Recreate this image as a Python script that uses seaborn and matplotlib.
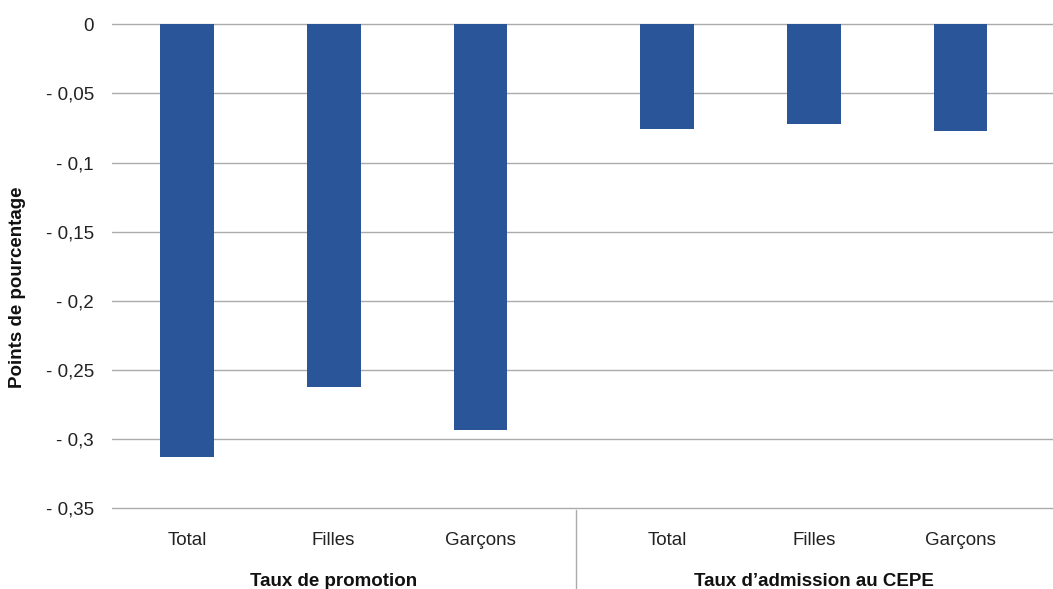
import numpy as np
import pandas as pd
import matplotlib
matplotlib.use("Agg")
import matplotlib.pyplot as plt
from matplotlib.ticker import FuncFormatter
import seaborn as sns

# Écart en points de pourcentage, par indicateur et par sexe
groupes = ["Taux de promotion", "Taux d\u2019admission au CEPE"]
categories = ["Total", "Filles", "Garçons", "Total", "Filles", "Garçons"]
groupe_de = [0, 0, 0, 1, 1, 1]
valeurs = [-0.313, -0.262, -0.293, -0.076, -0.072, -0.077]
yticks = [0, -0.05, -0.1, -0.15, -0.2, -0.25, -0.3, -0.35]

sns.set_theme(style="white")
plt.rcParams["font.family"] = ["Liberation Sans", "DejaVu Sans"]

BAR = "#2A5699"
GRID = "#ABABAB"
FS = 13.5

# horizontal slots: three bars per group, with a wider gap between groups
pos = [0.0, 1.0, 2.0, 3.27, 4.27, 5.27]
df = pd.DataFrame({"pos": pos, "valeur": valeurs, "categorie": categories})

fig = plt.figure(figsize=(10.53, 5.89), dpi=100)
ax = fig.add_axes([112 / 1053, 1 - 510 / 589, 1 - 112 / 1053, (510 - 23) / 589])

sns.barplot(data=df, x="pos", y="valeur", native_scale=True, color=BAR,
            saturation=1, width=0.367, linewidth=0, ax=ax, zorder=3)

ax.set_xlim(-0.51, 5.9)
ax.set_ylim(-0.3512, 0.0009)
ax.set_yticks(yticks)
ax.yaxis.set_major_formatter(FuncFormatter(
    lambda v, _: "0" if abs(v) < 1e-9 else ("- " + f"{abs(v):g}".replace(".", ","))))
ax.grid(axis="y", color=GRID, linewidth=1.0, zorder=0)
ax.grid(axis="x", visible=False)
for s in ax.spines.values():
    s.set_visible(False)

ax.set_xticks(pos)
ax.set_xticklabels(categories, fontsize=FS, color="#222222")
ax.tick_params(axis="x", length=0, pad=16)
ax.tick_params(axis="y", length=0, pad=13, labelsize=FS, labelcolor="#222222")
ax.set_xlabel("")
ax.set_ylabel("")

# group names under the category labels
centres = [np.mean([p for p, g in zip(pos, groupe_de) if g == k]) for k in range(len(groupes))]
trans = ax.get_xaxis_transform()
for c, nom in zip(centres, groupes):
    ax.text(c, -0.146, nom, transform=trans, ha="center", va="center",
            fontsize=FS, fontweight="bold", color="#111111", clip_on=False)

# separator between the two groups
ax.plot([2.653, 2.653], [0, -0.17], transform=trans, color=GRID,
        linewidth=1.0, clip_on=False)

fig.text(18 / 1053, 1 - 287 / 589, "Points de pourcentage", rotation=90,
         ha="center", va="center", fontsize=FS, fontweight="bold", color="#111111")

fig.savefig("out.png", dpi=100)
